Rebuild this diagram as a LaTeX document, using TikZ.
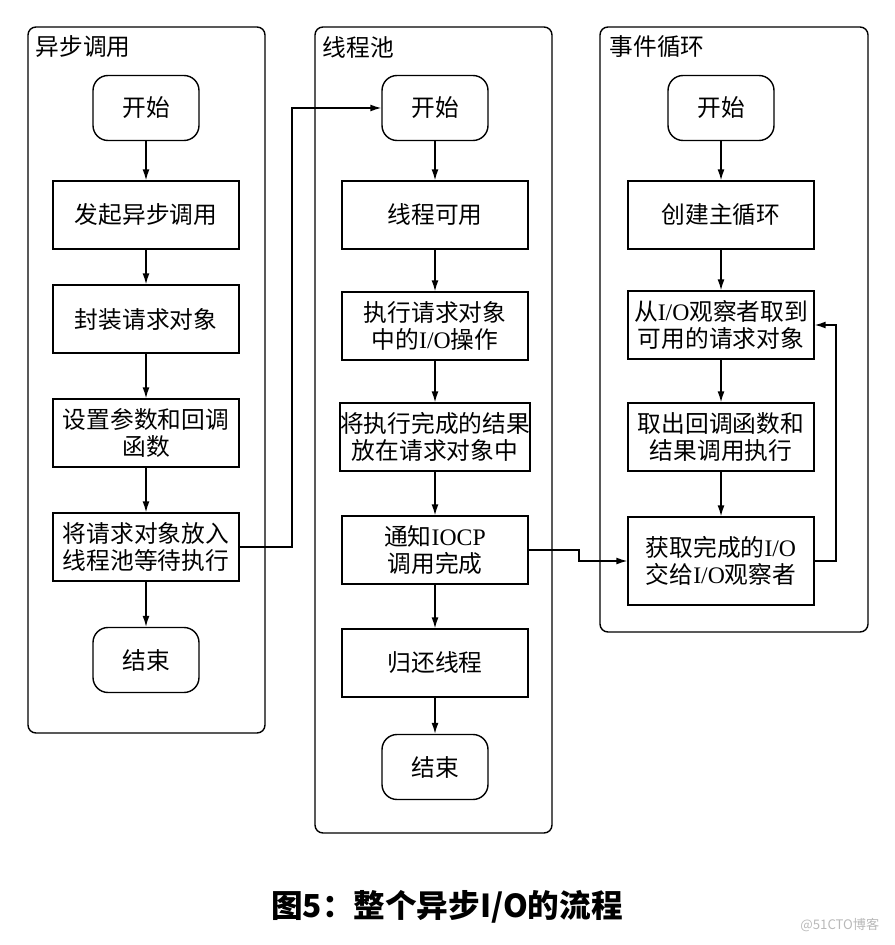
\documentclass[tikz,border=0pt]{standalone}
\usepackage{fontspec}
\setmainfont{Liberation Serif}
\newfontfamily\cjk{Noto Sans CJK SC}
\newfontfamily\latin{Liberation Serif}
\usetikzlibrary{arrows.meta}
\definecolor{markgray}{RGB}{185,185,185}

\begin{document}
\begin{tikzpicture}[x=0.02cm, y=-0.02cm, line width=0.8pt, >={Latex[length=2.2mm,width=1.4mm]}]
          \tikzstyle{every node}=[font=\cjk\fontsize{13.5}{15.5}\selectfont, align=center, inner sep=0pt]
          \tikzstyle{proc}=[draw, minimum width=3.72cm, minimum height=1.36cm]
          \tikzstyle{term}=[draw, rounded corners=0.3cm, minimum width=2.12cm, minimum height=1.3cm]
          \tikzstyle{panel}=[rounded corners=0.16cm]
          %\tikzset{every edge thick}
          \useasboundingbox (0,0) rectangle (894,945);

            \draw[panel] (28,27) rectangle (265,733);
            \draw[panel] (315,27) rectangle (552,833);
            \draw[panel] (600,27) rectangle (868,632);
            \node[anchor=west] (ha) at (35,47) {异步调用};
            \node[anchor=west] (ht) at (322,47) {线程池};
            \node[anchor=west] (he) at (609,47) {事件循环};

            \node[term] (a0) at (146,108) {开始};
            \node[proc] (a1) at (146,215) {发起异步调用};
            \node[proc] (a2) at (146,319) {封装请求对象};
            \node[proc] (a3) at (146,433) {设置参数和回调\\函数};
            \node[proc] (a4) at (146,547) {将请求对象放入\\线程池等待执行};
            \node[term] (a5) at (146,660) {结束};

            \node[term] (t0) at (435,108) {开始};
            \node[proc] (t1) at (435,215) {线程可用};
            \node[proc] (t2) at (435,326) {执行请求对象\\中的{\latin I/O}操作};
            \node[proc] (t3) at (435,437) {将执行完成的结果\\放在请求对象中};
            \node[proc] (t4) at (435,550) {通知{\latin IOCP}\\调用完成};
            \node[proc] (t5) at (435,663) {归还线程};
            \node[term] (t6) at (435,767) {结束};

            \node[term] (e0) at (721,108) {开始};
            \node[proc] (e1) at (721,215) {创建主循环};
            \node[proc] (e2) at (721,325) {从{\latin I/O}观察者取到\\可用的请求对象};
            \node[proc] (e3) at (721,437) {取出回调函数和\\结果调用执行};
            \node[proc, minimum height=1.76cm] (e4) at (721,561) {获取完成的{\latin I/O}\\交给{\latin I/O}观察者};

            \coordinate (k1) at (292,547);
            \coordinate (k2) at (579,555);
            \coordinate (k3) at (836,440);

            \node[font=\cjk\bfseries\fontsize{18}{21}\selectfont] (cap) at (447,907) {图5：整个异步I/O的流程};
            \node[font=\cjk\fontsize{7.5}{9}\selectfont, text=markgray, anchor=east] (wm) at (880,925) {@51CTO博客};

            \draw[->] (a0) edge (a1);
            \draw[->] (a1) edge (a2);
            \draw[->] (a2) edge (a3);
            \draw[->] (a3) edge (a4);
            \draw[->] (a4) edge (a5);
            \draw[->] (t0) edge (t1);
            \draw[->] (t1) edge (t2);
            \draw[->] (t2) edge (t3);
            \draw[->] (t3) edge (t4);
            \draw[->] (t4) edge (t5);
            \draw[->] (t5) edge (t6);
            \draw[->] (e0) edge (e1);
            \draw[->] (e1) edge (e2);
            \draw[->] (e2) edge (e3);
            \draw[->] (e3) edge (e4);

            \draw[->] (a4.east) -- (k1) |- (t0.west);
            \draw[->] (t4.east) -| (k2) |- (e4.west);
            \draw[->] (e4.east) -| (k3) |- (e2.east);
        \end{tikzpicture}
\end{document}
